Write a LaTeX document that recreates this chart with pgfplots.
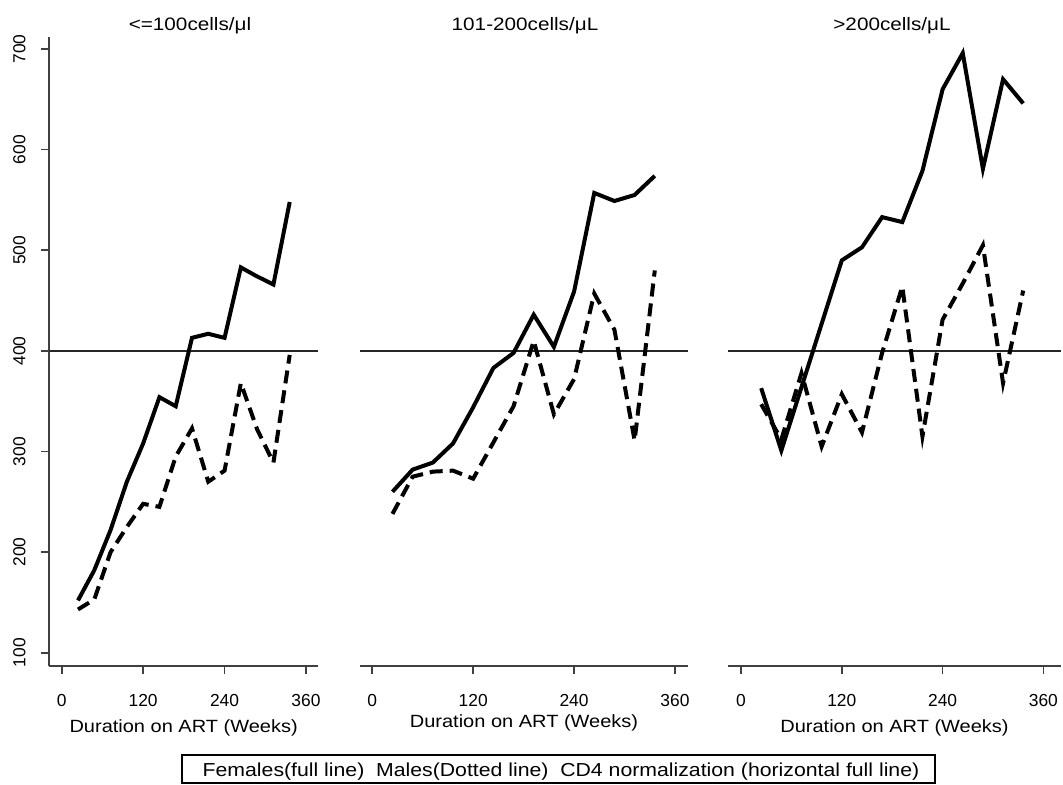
\documentclass[border=0pt]{standalone}
\usepackage{fontspec}
\setmainfont{Liberation Sans}
\newfontfamily\widefont[FakeStretch=1.13]{Liberation Sans}
\newfontfamily\titlefam[FakeStretch=1.15]{Liberation Sans}
\usepackage{pgfplots}
\pgfplotsset{compat=1.18}

\newcommand\tickfont{\fontsize{8.7}{10}\selectfont}
\newcommand\titlefont{\titlefam\fontsize{9}{11}\selectfont}
\newcommand\labelfont{\widefont\fontsize{8.85}{11}\selectfont}

\pgfplotsset{
  panel/.style={
    scale only axis,
    anchor=south west,
    height=314.35pt,
    ymin=87.1, ymax=712,
    xtick={0,120,240,360},
    tick align=outside,
    major tick length=4pt,
    axis x line*=bottom,
    axis line style={-, black!75, line width=1pt},
    tick style={black!75, line width=0.8pt},
    /pgf/number format/assume math mode=true,
    xticklabel={\tickfont\pgfmathprintnumber{\tick}},
    yticklabel={\tickfont\pgfmathprintnumber{\tick}},
    xticklabel style={anchor=base, yshift=-16.3pt},
    xlabel={Duration on ART (Weeks)},
    xlabel style={font=\labelfont,
      at={(axis description cs:0.5,0)}, anchor=base, yshift=-33.5pt},
  },
  female/.style={black, line width=2pt, line join=miter},
  male/.style={black, line width=2pt, line join=miter,
    dash pattern=on 6.5pt off 3.5pt},
  cd4/.style={black!85, line width=1pt},
}

\begin{document}
\begin{tikzpicture}
\useasboundingbox (0,0) rectangle (531.5pt,392pt);

% <=100 cells
\begin{axis}[panel, at={(24.65pt,59.15pt)}, width=134.35pt,
  xmin=-18.3, xmax=377.7,
  axis y line*=left,
  ytick={100,200,300,400,500,600,700},
  yticklabel style={rotate=90, anchor=base, yshift=8pt},
]
  \addplot[cd4] coordinates {(-18.3,400) (377.7,400)};
  \addplot[female] coordinates {
    (24,152)(48,182)(72,222)(96,270)(120,308)(144,354)(168,345)
    (192,413)(216,417)(240,413)(264,483)(288,474)(312,466)(336,548)};
  \addplot[male] coordinates {
    (24,143)(48,153)(72,200)(96,225)(120,248)(144,245)(168,295)
    (192,323)(216,270)(240,281)(264,368)(288,322)(312,289)(336,396)};
\end{axis}

% 101-200 cells
\begin{axis}[panel, at={(180pt,59.15pt)}, width=164pt,
  xmin=-14.6, xmax=375.5,
  axis y line=none, ytick=\empty,
  xlabel style={yshift=2.5pt},
]
  \addplot[cd4] coordinates {(-14.6,400) (375.5,400)};
  \addplot[female] coordinates {
    (24,260)(48,282)(72,289)(96,308)(120,344)(144,383)(168,398)
    (192,436)(216,404)(240,459)(264,557)(288,549)(312,555)(336,574)};
  \addplot[male] coordinates {
    (24,238)(48,275)(72,280)(96,281)(120,273)(144,309)(168,345)
    (192,410)(216,337)(240,372)(264,457)(288,421)(312,311)(336,480)};
\end{axis}

% >200 cells
\begin{axis}[panel, at={(364pt,59.15pt)}, width=166.5pt,
  xmin=-15.5, xmax=381,
  axis y line=none, ytick=\empty,
]
  \addplot[cd4] coordinates {(-15.5,400) (381,400)};
  \addplot[female] coordinates {
    (24,363)(48,301)(72,364)(96,427)(120,490)(144,503)(168,533)
    (192,528)(216,579)(240,660)(264,696)(288,581)(312,670)(336,646)};
  \addplot[male] coordinates {
    (24,347)(48,312)(72,378)(96,305)(120,357)(144,319)(168,398)
    (192,464)(216,315)(240,431)(264,467)(288,505)(312,368)(336,460)};
\end{axis}

% panel titles
\begin{scope}[every node/.style={font=\titlefont, anchor=base}]
  \node at (95pt,377pt) {<=100cells/μl};
  \node at (262.5pt,377pt) {101-200cells/μL};
  \node at (446pt,377pt) {>200cells/μL};
\end{scope}

% legend box
\draw[black, line width=0.8pt] (90.85pt,0.5pt) rectangle (467.5pt,14.5pt);
\node[font=\widefont\fontsize{9.4}{11}\selectfont, anchor=base] at (280.5pt,3.6pt)
  {Females(full line)\ \ Males(Dotted line)\ \ CD4 normalization (horizontal full line)};
\end{tikzpicture}
\end{document}
